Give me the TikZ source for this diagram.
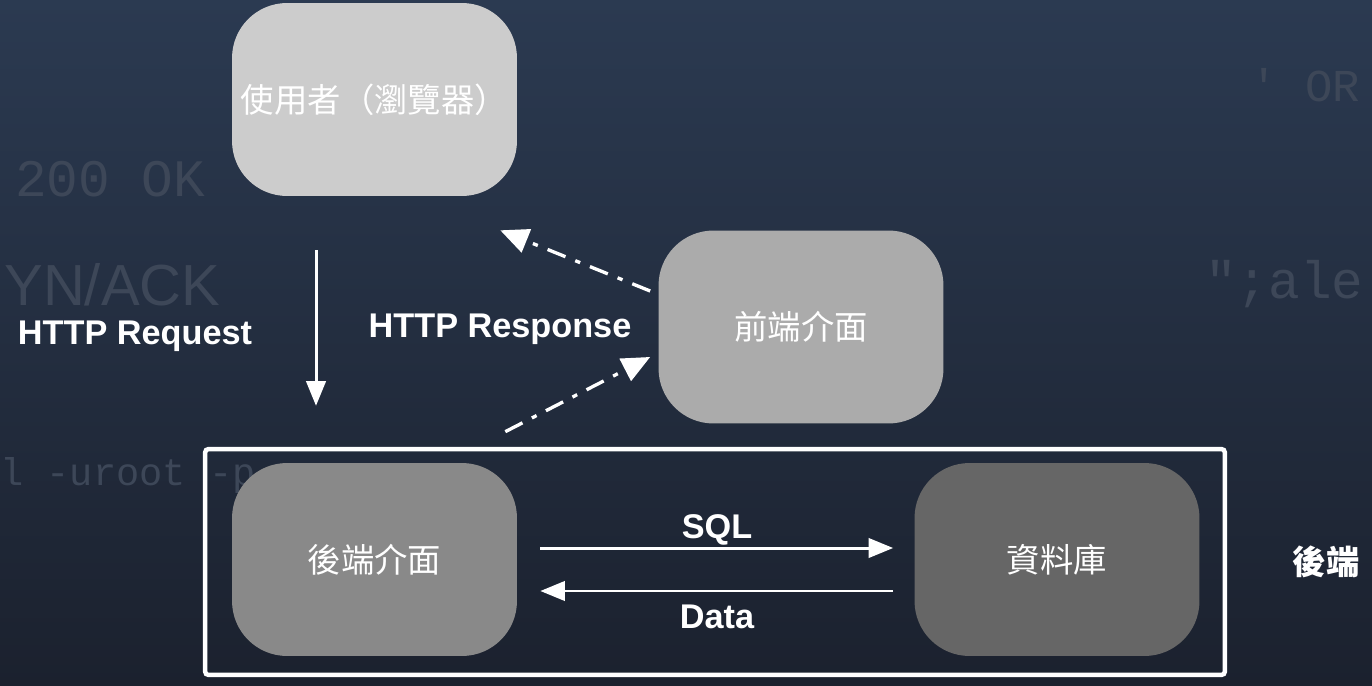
\documentclass[tikz,border=0pt]{standalone}
\usepackage{fontspec}
\setmainfont{Liberation Sans}
\newfontfamily\cjk{Noto Sans CJK TC}
\newfontfamily\codefont{Liberation Mono}
\usetikzlibrary{arrows.meta}
\definecolor{BgTop}{HTML}{2B3A51}
\definecolor{BgBottom}{HTML}{1B212E}
\definecolor{FaintCode}{HTML}{3D4758}
\definecolor{UserGray}{HTML}{CCCCCC}
\definecolor{FrontGray}{HTML}{ABABAB}
\definecolor{BackGray}{HTML}{898989}
\definecolor{DbGray}{HTML}{666666}

\begin{document}
\begin{tikzpicture}[x=0.02cm,y=-0.02cm,
    tier/.style={rounded corners=1.1cm,minimum width=5.7cm,minimum height=3.86cm,inner sep=0pt,
      text=white,font=\cjk\fontsize{19}{21}\selectfont},
    flow/.style={white,line width=1.7pt,-{Triangle[length=14pt,width=11pt]}},
    resp/.style={white,line width=1.9pt,dash pattern=on 11pt off 6pt on 3pt off 6pt,
      -{Triangle[length=16pt,width=14pt]}},
    lbl/.style={text=white,font=\bfseries\fontsize{19.5}{21}\selectfont,anchor=base,inner sep=0pt},
    bgcode/.style={text=FaintCode,font=\codefont\fontsize{30}{32}\selectfont,anchor=base west,inner sep=0pt}]
  \useasboundingbox (0,0) rectangle (1372,686);
  \shade[top color=BgTop,bottom color=BgBottom] (0,0) rectangle (1372,686);
  % faint code in the backdrop
  \begin{scope}
    \clip (0,0) rectangle (1372,686);
    \node[bgcode] (ok) at (15,196) {200 OK};
    \node[bgcode,font=\fontsize{33}{35}\selectfont] (ack) at (4,305) {YN/ACK};
    \node[bgcode,font=\codefont\fontsize{22}{24}\selectfont] (uroot) at (0,485) {l -uroot -p};
    \node[bgcode,font=\codefont\fontsize{26}{28}\selectfont] (sqlor) at (1250,102) {' OR};
    \node[bgcode] (alert) at (1205,298) {";ale};
  \end{scope}
  % tiers
  \node[tier,fill=UserGray] (user) at (374.5,99.5) {使用者（瀏覽器）};
  \node[tier,fill=FrontGray] (front) at (801,327) {前端介面};
  \node[tier,fill=BackGray] (backend) at (374.5,559.5) {後端介面};
  \node[tier,fill=DbGray] (db) at (1057,559.5) {資料庫};
  \node[draw=white,line width=2.55pt,rounded corners=2pt,minimum width=20.4cm,minimum height=4.52cm] (backside) at (715,562) {};
  \node[text=white,font=\cjk\bfseries\fontsize{19}{21}\selectfont] (backlbl) at (1326,562) {後端};
  % request / response
  \draw[flow,shorten <=1.08cm,shorten >=0.82cm] ([xshift=-1.17cm]user.south) -- ([xshift=-1.17cm]user.south |- backside.north);
  \draw[resp] ([xshift=-0.16cm,yshift=0.72cm]front.west) -- ([xshift=-0.34cm,yshift=-0.68cm]user.south east);
  \draw[resp] ([xshift=-0.24cm,yshift=0.62cm]backend.north east) -- ([xshift=-0.16cm,yshift=-0.6cm]front.west);
  \node[lbl] (req) at (135,344) {HTTP Request};
  \node[lbl] (res) at (500,337) {HTTP Response};
  % backend <-> database
  \draw[flow,shorten <=0.46cm,shorten >=0.42cm] ([yshift=0.23cm]backend.east) -- ([yshift=0.23cm]db.west);
  \draw[flow,shorten <=0.42cm,shorten >=0.46cm] ([yshift=-0.63cm]db.west) -- ([yshift=-0.63cm]backend.east);
  \node[lbl] (sql) at (717,538) {SQL};
  \node[lbl] (data) at (717,628) {Data};
\end{tikzpicture}
\end{document}
